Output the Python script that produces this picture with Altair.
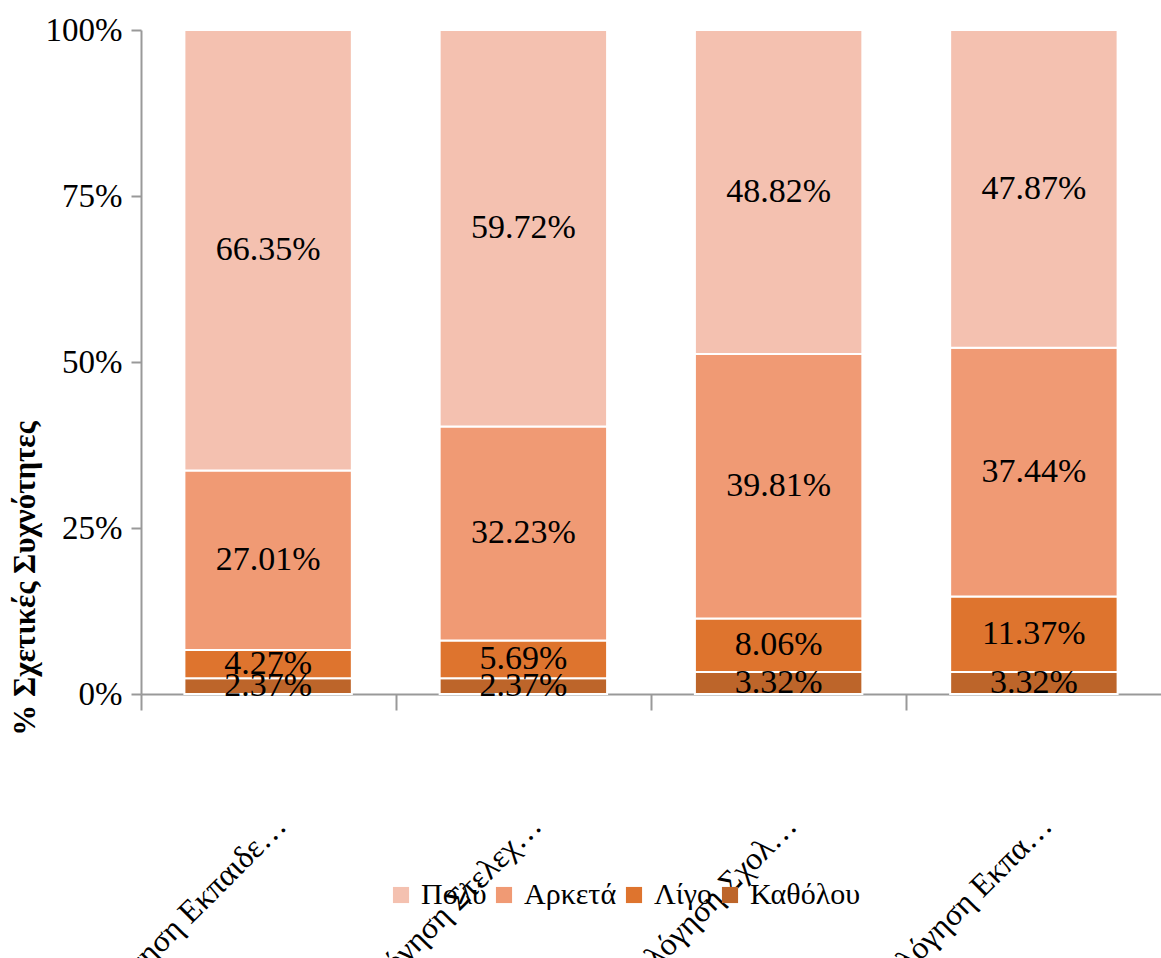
import altair as alt
import pandas as pd

categories = ["Αξιολόγηση Εκπαιδε…", "Αξιολόγηση Στελεχ…", "Αυτοαξιολόγηση Σχολ…", "Αυτοαξιολόγηση Εκπα…"]
levels = ["Πολύ", "Αρκετά", "Λίγο", "Καθόλου"]
poly = [66.35, 59.72, 48.82, 47.87]
arketa = [27.01, 32.23, 39.81, 37.44]
ligo = [4.27, 5.69, 8.06, 11.37]
katholou = [2.37, 2.37, 3.32, 3.32]
colors = ["#F4C1B0", "#F09A74", "#DE742E", "#BD652A"]
y_ticks = [0, 25, 50, 75, 100]

series = {"Πολύ": poly, "Αρκετά": arketa, "Λίγο": ligo, "Καθόλου": katholou}
stack_rank = {"Καθόλου": 0, "Λίγο": 1, "Αρκετά": 2, "Πολύ": 3}
rows = []
for lev in levels:
    for c, v in zip(categories, series[lev]):
        rows.append({"cat": c, "level": lev, "value": v, "ord": stack_rank[lev]})
df = pd.DataFrame(rows)

FONT = "Liberation Serif"

base = alt.Chart(df).transform_stack(
    stack="value", as_=["y0", "y1"], groupby=["cat"],
    sort=[alt.SortField(field="ord", order="ascending")]
).transform_calculate(
    mid="(datum.y0 + datum.y1) / 2",
    label="format(datum.value, '.2f') + '%'"
)

xenc = alt.X("cat:N", sort=categories, title=None,
             scale=alt.Scale(paddingInner=0.344, paddingOuter=0.17),
             axis=alt.Axis(labelAngle=-45, labelAlign="right", labelBaseline="middle",
                           labelPadding=110, labelFont=FONT, labelFontSize=32,
                           labelColor="black", labelLimit=1000,
                           tickOffset=-127.5, labelOffset=140,
                           tickSize=16, tickColor="#999999", tickWidth=2,
                           domainColor="#999999", domainWidth=2))

bars = base.mark_bar(stroke="white", strokeWidth=2).encode(
    x=xenc,
    y=alt.Y("y0:Q", scale=alt.Scale(domain=[0, 100], nice=False),
            axis=alt.Axis(values=y_ticks, labelExpr="datum.value + '%'",
                          title="% Σχετικές Συχνότητες", titleFont=FONT,
                          titleFontSize=31, titleFontWeight="bold", titleColor="black",
                          titleX=-116, titleY=548, titleBaseline="middle", titleAngle=270,
                          labelFont=FONT, labelFontSize=33, labelColor="black",
                          labelPadding=9, tickSize=10, tickColor="#999999", tickWidth=2,
                          domainColor="#999999", domainWidth=2, grid=False)),
    y2="y1:Q",
    color=alt.Color("level:N", scale=alt.Scale(domain=levels, range=colors),
                    legend=alt.Legend(title=None, orient="none", direction="horizontal",
                                      legendX=245, legendY=850, symbolType="square",
                                      symbolSize=260, symbolStrokeWidth=0,
                                      labelFont=FONT, labelFontSize=30, labelColor="black",
                                      labelOffset=5, columnPadding=2)),
    order=alt.Order("ord:Q"),
)

texts = base.mark_text(font=FONT, fontSize=34, color="black", baseline="middle").encode(
    x=alt.X("cat:N", sort=categories),
    y=alt.Y("mid:Q"),
    text="label:N",
)

chart = alt.layer(bars, texts).properties(
    width=1020, height=664,
    autosize=alt.AutoSizeParams(type="none"),
    padding={"left": 141, "top": 30, "right": 0, "bottom": 264},
    background="white",
).configure_view(stroke=None)

chart.save("out.html", embed_options={"renderer": "svg", "actions": False})
